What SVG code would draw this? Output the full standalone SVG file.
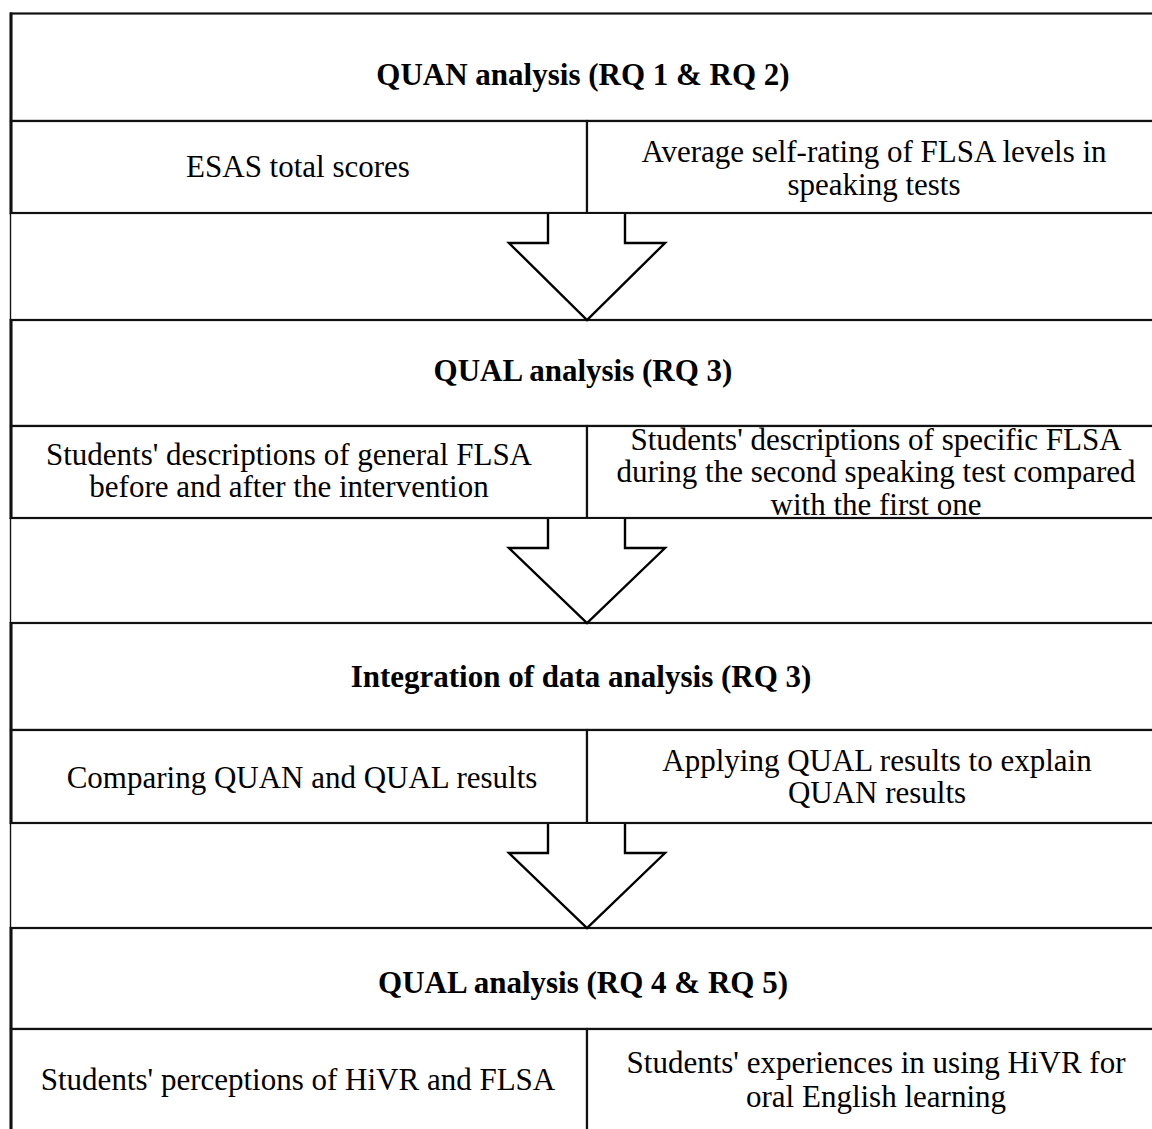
<svg xmlns="http://www.w3.org/2000/svg" width="1152" height="1129" viewBox="0 0 1152 1129">
  <style>
    .bg { fill: #ffffff; }
    .cell { fill: #ffffff; stroke: #111111; stroke-width: 2.2; }
    .edge { stroke: #111111; stroke-width: 3; fill: none; }
    .rail { stroke: #111111; stroke-width: 1.4; fill: none; }
    .arrow { fill: #ffffff; stroke: #000000; stroke-width: 2.4; stroke-linejoin: miter; }
    text { font-family: "Liberation Serif", "Times New Roman", serif; font-size: 31px; fill: #000000; text-anchor: middle; }
    .head { font-weight: bold; }
  </style>

  <rect class="bg" x="0" y="0" width="1152" height="1129"/>

  <!-- thin outer rail running down the left side between the blocks -->
  <g id="frame">
    <line class="rail" x1="10.5" y1="213" x2="10.5" y2="320"/>
    <line class="rail" x1="10.5" y1="518" x2="10.5" y2="623"/>
    <line class="rail" x1="10.5" y1="823" x2="10.5" y2="928"/>
  </g>

  <!-- block 1 -->
  <g id="quan-analysis">
    <rect class="cell" x="11" y="13.5" width="1152" height="107.5"/>
    <rect class="cell" x="11" y="121" width="576" height="92"/>
    <rect class="cell" x="587" y="121" width="576" height="92"/>
    <line class="edge" x1="11" y1="12.5" x2="11" y2="214"/>
    <text class="head" x="583" y="85">QUAN analysis (RQ 1 &amp; RQ 2)</text>
    <text x="298" y="177">ESAS total scores</text>
    <text x="874" y="162">Average self-rating of FLSA levels in</text>
    <text x="874" y="195">speaking tests</text>
  </g>

  <!-- block 2 -->
  <g id="qual-analysis-rq3">
    <rect class="cell" x="11" y="320" width="1152" height="106"/>
    <rect class="cell" x="11" y="426" width="576" height="92"/>
    <rect class="cell" x="587" y="426" width="576" height="92"/>
    <line class="edge" x1="11" y1="319" x2="11" y2="519"/>
    <text class="head" x="583" y="381">QUAL analysis (RQ 3)</text>
    <text x="289" y="465">Students' descriptions of general FLSA</text>
    <text x="289" y="497">before and after the intervention</text>
    <text x="876" y="450">Students' descriptions of specific FLSA</text>
    <text x="876" y="482">during the second speaking test compared</text>
    <text x="876" y="515">with the first one</text>
  </g>

  <!-- block 3 -->
  <g id="integration">
    <rect class="cell" x="11" y="623" width="1152" height="107"/>
    <rect class="cell" x="11" y="730" width="576" height="93"/>
    <rect class="cell" x="587" y="730" width="576" height="93"/>
    <line class="edge" x1="11" y1="622" x2="11" y2="824"/>
    <text class="head" x="581" y="687">Integration of data analysis (RQ 3)</text>
    <text x="302" y="788">Comparing QUAN and QUAL results</text>
    <text x="877" y="771">Applying QUAL results to explain</text>
    <text x="877" y="803">QUAN results</text>
  </g>

  <!-- block 4 -->
  <g id="qual-analysis-rq45">
    <rect class="cell" x="11" y="928" width="1152" height="101"/>
    <rect class="cell" x="11" y="1029" width="576" height="110"/>
    <rect class="cell" x="587" y="1029" width="576" height="110"/>
    <line class="edge" x1="11" y1="927" x2="11" y2="1129"/>
    <text class="head" x="583" y="993">QUAL analysis (RQ 4 &amp; RQ 5)</text>
    <text x="298" y="1090">Students' perceptions of HiVR and FLSA</text>
    <text x="876" y="1073">Students' experiences in using HiVR for</text>
    <text x="876" y="1107">oral English learning</text>
  </g>

  <!-- block arrows between the stages -->
  <g id="connectors">
    <path class="arrow" d="M548,214 L548,243 L509,243 L587,320 L665,243 L625,243 L625,214"/>
    <path class="arrow" d="M548,519 L548,548 L509,548 L587,623 L665,548 L625,548 L625,519"/>
    <path class="arrow" d="M548,824 L548,853 L509,853 L587,928 L665,853 L625,853 L625,824"/>
  </g>
</svg>
